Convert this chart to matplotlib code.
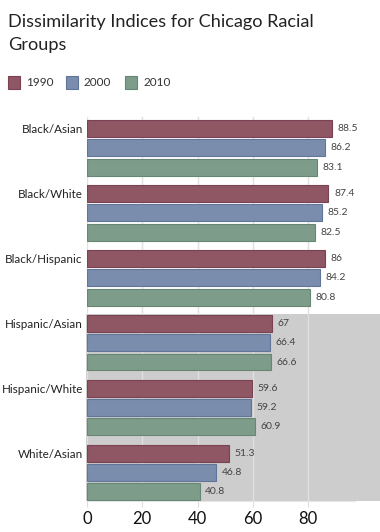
import numpy as np
import matplotlib
matplotlib.use("Agg")
import matplotlib.pyplot as plt
from matplotlib.patches import Rectangle

plt.rcParams['font.family'] = ['Lato', 'DejaVu Sans']

# --- data ---
groups = ['Black/Asian', 'Black/White', 'Black/Hispanic',
          'Hispanic/Asian', 'Hispanic/White', 'White/Asian']
years = ['1990', '2000', '2010']
vals_1990 = [88.5, 87.4, 86, 67, 59.6, 51.3]
vals_2000 = [86.2, 85.2, 84.2, 66.4, 59.2, 46.8]
vals_2010 = [83.1, 82.5, 80.8, 66.6, 60.9, 40.8]
x_ticks = [0, 20, 40, 60, 80]

colors = ['#8f5764', '#7b8dac', '#7e9c8a']
edges = ['#7a4252', '#61759a', '#668774']

fig = plt.figure(figsize=(3.8, 5.32), dpi=100)

# grey overlay band seen in the reference (behind the axes)
fig.patches.append(Rectangle((86 / 380, 1 - 501 / 532), 1 - 86 / 380, (501 - 314) / 532,
                             transform=fig.transFigure, facecolor='#cdcdcd',
                             edgecolor='none', zorder=-5))

ax = fig.add_axes([87 / 380, 1 - 501 / 532, (355 - 87) / 380, (501 - 117) / 532])
ax.set_facecolor('none')
ax.set_zorder(2)

gap = 3.37
series = [vals_1990, vals_2000, vals_2010]
for j, vals in enumerate(series):
    ypos = np.arange(len(groups)) * gap + j
    ax.barh(ypos, vals, height=0.88, color=colors[j], edgecolor=edges[j],
            linewidth=0.8, zorder=3)
    for y, v in zip(ypos, vals):
        ax.text(v + 2, y, f'{v:g}', va='center', ha='left', fontsize=7.5,
                color='#444444', zorder=4)

ax.set_xlim(0, 97)
ax.set_ylim(5 * gap + 2 + 0.47, -0.6)
ax.set_yticks(np.arange(len(groups)) * gap)
ax.set_yticklabels(groups, fontsize=8.4, color='#222222')
ax.set_xticks(x_ticks)
ax.set_xticklabels([str(t) for t in x_ticks], fontsize=12, color='#111111')
ax.tick_params(axis='y', length=0, pad=3)
ax.tick_params(axis='x', length=4, color='#dddddd', pad=3)
ax.grid(axis='x', color='#e0e0e0', linewidth=1, zorder=1)
for s in ['top', 'right', 'left']:
    ax.spines[s].set_visible(False)
ax.spines['bottom'].set_color('#e6e6e6')

fig.text(8 / 380, 1 - 27 / 532, 'Dissimilarity Indices for Chicago Racial',
         fontsize=13.1, color='#222222', va='baseline', ha='left')
fig.text(8 / 380, 1 - 50 / 532, 'Groups',
         fontsize=13.1, color='#222222', va='baseline', ha='left')

# legend
leg_x = [8, 66, 125]
for x, c, e, yr in zip(leg_x, colors, edges, years):
    fig.patches.append(Rectangle((x / 380, 1 - 89 / 532), 12 / 380, 13 / 532,
                                 transform=fig.transFigure, facecolor=c,
                                 edgecolor=e, linewidth=0.8))
    fig.text((x + 18) / 380, 1 - 83 / 532, yr, fontsize=8.5, color='#333333',
             va='center', ha='left')

fig.savefig('out.png', dpi=100)
